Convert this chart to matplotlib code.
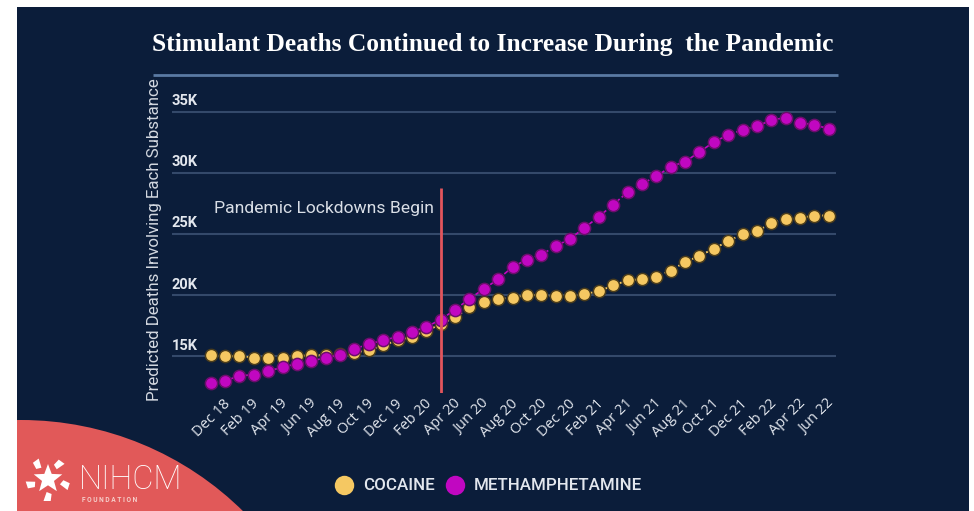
import numpy as np
import matplotlib
matplotlib.use("Agg")
import matplotlib.pyplot as plt
from matplotlib.patches import Circle, Rectangle, Polygon
from matplotlib.lines import Line2D
from matplotlib.transforms import blended_transform_factory, ScaledTranslation

# ---- data (predicted deaths, monthly, Nov 2018 - Jun 2022) ----
month_names = ["Jan", "Feb", "Mar", "Apr", "May", "Jun",
               "Jul", "Aug", "Sep", "Oct", "Nov", "Dec"]
months = [f"{month_names[(10 + i) % 12]} {18 + (10 + i) // 12}" for i in range(44)]

cocaine = [15.1, 15.0, 15.0, 14.9, 14.9, 14.9, 15.0, 15.1, 15.1, 15.2,
           15.3, 15.5, 15.9, 16.3, 16.6, 17.1, 17.6, 18.2, 19.0, 19.4,
           19.7, 19.8, 20.0, 20.0, 19.9, 19.9, 20.1, 20.3, 20.8, 21.2,
           21.3, 21.5, 22.0, 22.7, 23.2, 23.8, 24.4, 25.0, 25.2, 25.9,
           26.2, 26.3, 26.5, 26.5]
methamphetamine = [12.8, 13.0, 13.4, 13.5, 13.8, 14.1, 14.4, 14.6, 14.9, 15.1,
                   15.6, 16.0, 16.3, 16.6, 17.0, 17.4, 18.0, 18.8, 19.7, 20.5,
                   21.3, 22.3, 22.9, 23.3, 24.0, 24.6, 25.5, 26.4, 27.4, 28.4,
                   29.1, 29.7, 30.5, 30.9, 31.7, 32.5, 33.1, 33.5, 33.8, 34.3,
                   34.5, 34.1, 33.9, 33.6]
cocaine = np.array(cocaine) * 1000
methamphetamine = np.array(methamphetamine) * 1000

tick_labels = ["Dec 18", "Feb 19", "Apr 19", "Jun 19", "Aug 19", "Oct 19",
               "Dec 19", "Feb 20", "Apr 20", "Jun 20", "Aug 20", "Oct 20",
               "Dec 20", "Feb 21", "Apr 21", "Jun 21", "Aug 21", "Oct 21",
               "Dec 21", "Feb 22", "Apr 22", "Jun 22"]
y_ticks = [15000, 20000, 25000, 30000, 35000]
y_tick_labels = ["15K", "20K", "25K", "30K", "35K"]

lockdown_month = "Mar 20"
lockdown_line_top = 28750
lockdown_text = "Pandemic Lockdowns Begin"
title = "Stimulant Deaths Continued to Increase During  the Pandemic"
ylabel = "Predicted Deaths Involving Each Substance"

# ---- colours ----
NAVY = "#0b1d3a"
YELLOW = "#f5c862"
PURPLE = "#c107c1"
CORAL = "#e15959"
GRID = "#34496a"
TEXT = "#e3e7ee"

W, H = 974, 511
fig = plt.figure(figsize=(W / 100, H / 100), dpi=100, facecolor="white")

# background layer in pixel units
bg = fig.add_axes([0, 0, 1, 1])
bg.set_xlim(0, W)
bg.set_ylim(H, 0)
bg.axis("off")
panel = Rectangle((17, 7), 952, 504, facecolor=NAVY, edgecolor="none")
bg.add_patch(panel)
blob = Circle((21, 736), 316, facecolor=CORAL, edgecolor="none")
bg.add_patch(blob)
blob.set_clip_path(panel)

bg.text(493, 44, title, ha="center", va="center", color="white",
        fontfamily="Liberation Serif", fontweight="bold", fontsize=18.4)
bg.plot([153, 838], [75, 75], color="#5a7aa3", lw=2, solid_capstyle="butt")

# logo: star with surrounding hands
cx, cy, R = 48, 479, 15
ang = np.deg2rad(90 + 36 * np.arange(10))
rad = np.where(np.arange(10) % 2 == 0, R, R * 0.42)
bg.add_patch(Polygon(np.c_[cx + rad * np.cos(ang), cy - rad * np.sin(ang)],
                     closed=True, facecolor="white", edgecolor="none"))
for k in range(5):
    a = np.deg2rad(90 + 36 + 72 * k)
    ux, uy = np.cos(a), -np.sin(a)
    px, py = -uy, ux
    r0, r1, hw = 13, 22, 4.5
    pts = [(cx + ux * r0 + px * hw * 0.3, cy + uy * r0 + py * hw * 0.3),
           (cx + ux * r1 + px * hw, cy + uy * r1 + py * hw),
           (cx + ux * r1 - px * hw * 0.6, cy + uy * r1 - py * hw * 0.6),
           (cx + ux * (r0 + 2) - px * hw * 0.8, cy + uy * (r0 + 2) - py * hw * 0.8)]
    bg.add_patch(Polygon(pts, closed=True, facecolor="white", edgecolor="none"))
bg.text(79, 489, "NIHCM", ha="left", va="baseline", color="white",
        fontfamily="Roboto", fontweight="light", fontsize=23.5)
bg.text(82, 502, "F O U N D A T I O N", ha="left", va="baseline", color="#f6cfcb",
        fontfamily="Roboto", fontweight="bold", fontsize=4.8)

# ---- main chart ----
x = np.arange(len(months))
ax = fig.add_axes([172 / W, 1 - 393 / H, (836 - 172) / W, (393 - 99.3) / H])
ax.set_facecolor("none")
ax.set_xlim(-2.69, 43.5)
ax.set_ylim(12000, 36000)
for s in ax.spines.values():
    s.set_visible(False)

ax.set_yticks(y_ticks)
ax.set_yticklabels([])
ax.tick_params(axis="y", length=0)
ax.yaxis.grid(True, color=GRID, lw=1.5)
ax.set_axisbelow(True)
tr = blended_transform_factory(ax.transAxes, ax.transData)
for v, lab in zip(y_ticks, y_tick_labels):
    ax.annotate(lab, (0, v), xycoords=tr, xytext=(0, 2.5), textcoords="offset points",
                ha="left", va="bottom", color=TEXT, fontfamily="Roboto",
                fontweight="bold", fontsize=10.5)

tick_pos = [months.index(t) for t in tick_labels]
ax.set_xticks(tick_pos)
ax.set_xticklabels(tick_labels, rotation=45, ha="right", va="center",
                   rotation_mode="anchor", color=TEXT, fontfamily="Open Sans",
                   fontsize=10.5)
ax.tick_params(axis="x", length=0, pad=6)
shift = ScaledTranslation(3 / 100, 0, fig.dpi_scale_trans)
for lbl in ax.get_xticklabels():
    lbl.set_transform(lbl.get_transform() + shift)

ax.plot(x, cocaine, color=YELLOW, ls=":", lw=1.4, marker="o", ms=8.8,
        mfc=YELLOW, mec="#4b3d1c", mew=1.1, zorder=3)
ax.plot(x, methamphetamine, color=PURPLE, ls="--", lw=1.2, marker="o", ms=8.8,
        mfc=PURPLE, mec="#6b0f6b", mew=1.1, zorder=4)

lx = months.index(lockdown_month)
ax.vlines(lx, ax.get_ylim()[0], lockdown_line_top, color="#e2555c", lw=2, zorder=5)
ax.annotate(lockdown_text, (lx, 27050), xytext=(-5, 0), textcoords="offset points",
            ha="right", va="center", color="#d9dee6", fontfamily="Roboto",
            fontsize=12.6)

fig.text(155 / W, 1 - 240 / H, ylabel, rotation=90, ha="center", va="center",
         color="#d3d8e0", fontfamily="Roboto", fontsize=12.2)

handles = [Line2D([], [], ls="", marker="o", ms=14, mfc=YELLOW, mec="none"),
           Line2D([], [], ls="", marker="o", ms=14, mfc=PURPLE, mec="none")]
fig.legend(handles, ["COCAINE", "METHAMPHETAMINE"], loc="center",
           bbox_to_anchor=(0.501, 1 - 486 / H), ncol=2, frameon=False,
           prop={"family": "Roboto", "weight": "medium", "size": 12.2},
           labelcolor=TEXT, handletextpad=0.5, columnspacing=0.6,
           handlelength=1.2)

fig.savefig("out.png", dpi=100, facecolor="white")
